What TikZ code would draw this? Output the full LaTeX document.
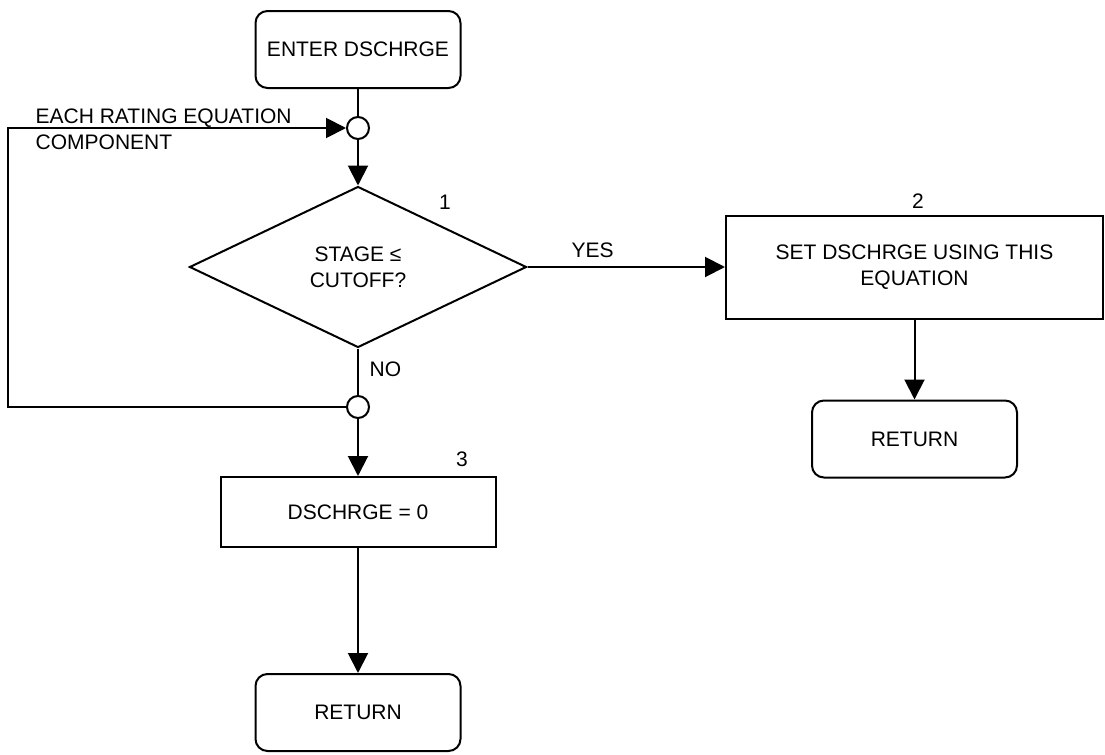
\documentclass[tikz,border=0pt]{standalone}
\usepackage{fontspec}
\setmainfont{Liberation Sans}
\usetikzlibrary{shapes.geometric,arrows.meta}
\begin{document}
\begin{tikzpicture}[x=.5pt,y=-.5pt,line width=1pt,font=\fontsize{10.5}{13}\selectfont,
term/.style={draw,rounded corners=6pt,minimum width=102.5pt,minimum height=38.5pt},
procbox/.style={draw,align=center,inner sep=0pt},
jn/.style={draw,circle,minimum size=11pt,inner sep=0pt},
arr/.style={-{Triangle[length=10pt,width=10pt]}}]
\useasboundingbox (0,0) rectangle (1105,755);
\node[term] (enter) at (358,49.5) {ENTER DSCHRGE};
\node[jn] (j1) at (358,128) {};\node[jn] (j2) at (358,407) {};
\node[draw,diamond,aspect=2.1,minimum width=168.5pt,minimum height=80.5pt,inner sep=0pt,align=center] (dec) at (358,267) {STAGE ≤\\CUTOFF?};
\node[procbox,minimum width=188.5pt,minimum height=51.5pt] (set) at (914.5,267) {SET DSCHRGE USING THIS\\EQUATION};
\node[term] (ret2) at (914.5,439) {RETURN};
\node[procbox,minimum width=137.5pt,minimum height=35pt] (zero) at (358,512) {DSCHRGE = 0};
\node[term] (ret3) at (358,712.5) {RETURN};
\node at (445,202) (n1) {1};\node at (918,201) (n2) {2};\node at (462,459) (n3) {3};
\node[align=left,anchor=west] (each) at (28,129.5) {EACH RATING EQUATION\\COMPONENT};
\coordinate (lc) at (8,407);
\draw (enter)--(j1);\draw[arr] (j1)--(dec.north);
\draw[arr] (dec.east)--(set.west) node[pos=.33,above=1pt] (yes) {YES};
\draw (dec.south)--(j2) node[pos=.45,right=2pt] (no) {NO};
\draw[arr] (j2.west)--(lc)|-(j1.west);
\draw[arr] (set)--(ret2);\draw[arr] (j2)--(zero);\draw[arr] (zero)--(ret3);
\end{tikzpicture}
\end{document}
